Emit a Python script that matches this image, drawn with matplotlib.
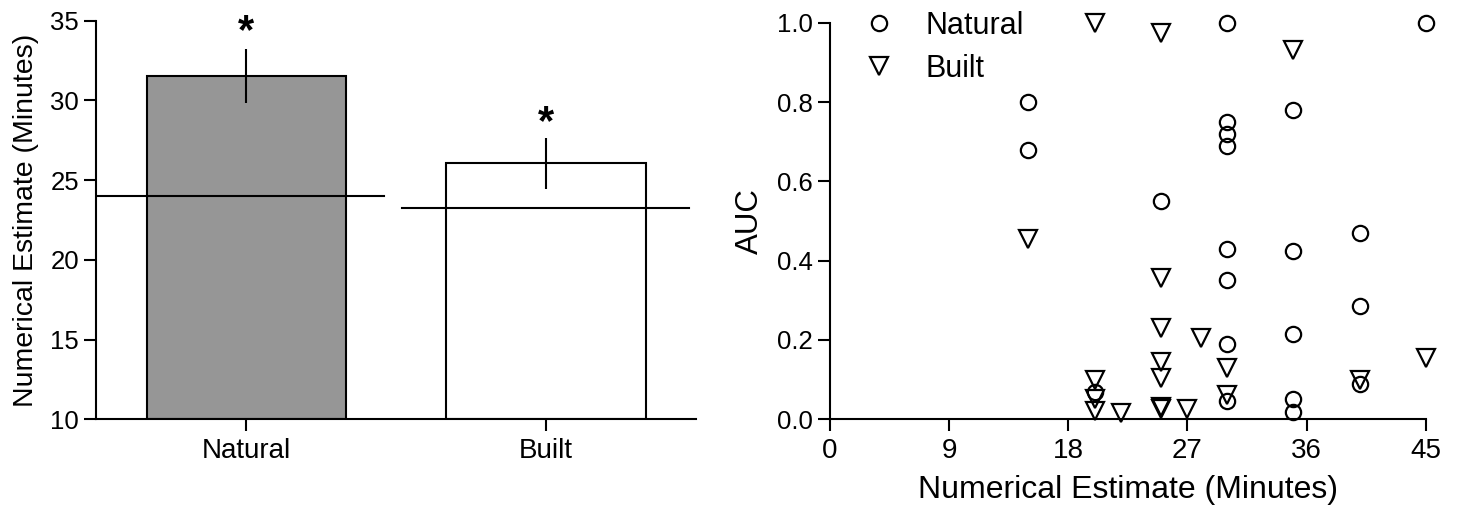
import matplotlib
matplotlib.use("Agg")
from matplotlib import pyplot as plt

plt.rcParams['font.family'] = ['Liberation Sans', 'DejaVu Sans']

# bar panel
groups = ["Natural", "Built"]
means = [31.55, 26.05]
errors = [1.7, 1.6]
bar_colors = ["#969696", "white"]
reference_lines = [24.0, 23.25]
stars_y = [34.3, 28.6]

# scatter panel
natural_x = [15, 15, 20, 25, 30, 30, 30, 30, 30, 30, 30, 30,
             35, 35, 35, 35, 35, 40, 40, 40, 45]
natural_y = [0.80, 0.68, 0.07, 0.55, 1.00, 0.75, 0.72, 0.69, 0.43, 0.35, 0.19, 0.045,
             0.78, 0.425, 0.215, 0.05, 0.018, 0.47, 0.285, 0.09, 1.00]
built_x = [15, 20, 20, 20, 20, 22, 25, 25, 25, 25, 25, 25, 25, 27, 28,
           30, 30, 35, 40, 45]
built_y = [0.455, 1.00, 0.10, 0.05, 0.02, 0.017, 0.975, 0.355, 0.23, 0.145, 0.105, 0.03, 0.025,
           0.027, 0.205, 0.13, 0.06, 0.93, 0.10, 0.155]

fig = plt.figure(figsize=(14.57, 5.11), dpi=100)

ax1 = fig.add_axes([0.0662, 0.1795, 0.4115, 0.78])
pos = [0, 1]
ax1.bar(pos, [m - 10 for m in means], bottom=10, width=0.666, color=bar_colors,
        edgecolor="black", linewidth=1.5, zorder=2)
ax1.errorbar(pos, means, yerr=errors, fmt="none", ecolor="black", elinewidth=1.5,
             capsize=0, zorder=3)
ax1.plot([-0.5, 0.458], [reference_lines[0]] * 2, color="black", lw=1.5, zorder=4)
ax1.plot([0.518, 1.478], [reference_lines[1]] * 2, color="black", lw=1.5, zorder=4)
for p, s in zip(pos, stars_y):
    ax1.text(p, s, "*", ha="center", va="center", fontsize=30, fontweight="bold")
ax1.set_xlim(-0.5, 1.5)
ax1.set_ylim(10, 35)
ax1.set_yticks([10, 15, 20, 25, 30, 35])
ax1.set_xticks(pos)
ax1.set_xticklabels(groups)
ax1.set_ylabel("Numerical Estimate (Minutes)", fontsize=20.5, labelpad=8)

ax2 = fig.add_axes([0.5695, 0.1795, 0.4092, 0.7761])
ax2.plot(natural_x, natural_y, "o", mfc="none", mec="black", ms=11, mew=1.6,
         clip_on=False, label="Natural")
ax2.plot(built_x, built_y, "v", mfc="none", mec="black", ms=12.5, mew=1.6,
         clip_on=False, label="Built")
ax2.set_xlim(0, 45)
ax2.set_ylim(0, 1.0)
ax2.set_xticks([0, 9, 18, 27, 36, 45])
ax2.set_yticks([0.0, 0.2, 0.4, 0.6, 0.8, 1.0])
ax2.set_yticklabels(["0.0", "0.2", "0.4", "0.6", "0.8", "1.0"])
ax2.set_xlabel("Numerical Estimate (Minutes)", fontsize=23, labelpad=8)
ax2.set_ylabel("AUC", fontsize=22.5, labelpad=8)
ax2.legend(loc="upper left", frameon=False, fontsize=22, handletextpad=0.55,
           borderaxespad=0.0, labelspacing=0.42, bbox_to_anchor=(0.01, 1.06))

for ax in (ax1, ax2):
    for side in ("top", "right"):
        ax.spines[side].set_visible(False)
    for side in ("left", "bottom"):
        ax.spines[side].set_linewidth(1.5)
    ax.tick_params(direction="out", length=8.5, width=1.5)
    ax.tick_params(axis="x", labelsize=20, pad=5)
    ax.tick_params(axis="y", labelsize=18.5, pad=4)

fig.savefig("out.png", dpi=100)
